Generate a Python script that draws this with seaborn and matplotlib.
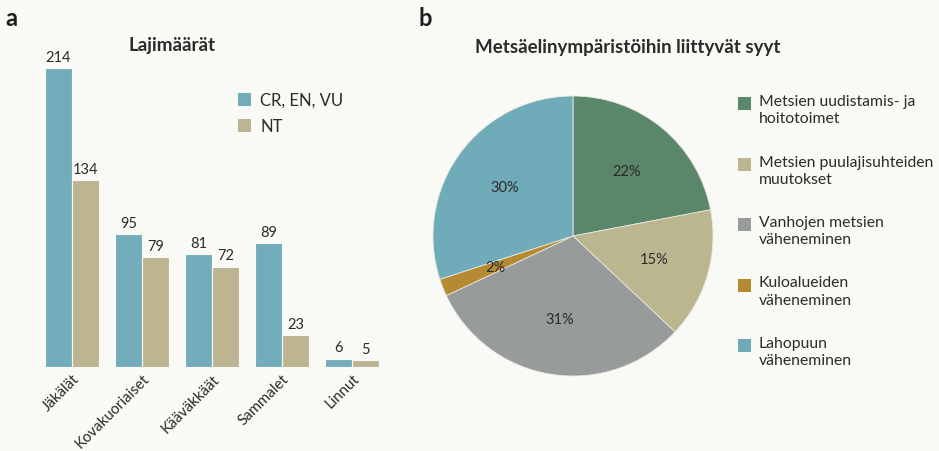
import matplotlib
matplotlib.use("Agg")
import matplotlib.pyplot as plt
from matplotlib.patches import Rectangle
import seaborn as sns
import pandas as pd

# ---- data ----
categories = ["Jäkälät", "Kovakuoriaiset", "Kääväkkäät", "Sammalet", "Linnut"]
series_names = ["CR, EN, VU", "NT"]
threatened = [214, 95, 81, 89, 6]
near_threatened = [134, 79, 72, 23, 5]

pie_labels = ["Metsien uudistamis- ja\nhoitotoimet",
              "Metsien puulajisuhteiden\nmuutokset",
              "Vanhojen metsien\nväheneminen",
              "Kuloalueiden\nväheneminen",
              "Lahopuun\nväheneminen"]
pie_values = [22, 15, 31, 2, 30]

bar_title = "Lajimäärät"
pie_title = "Metsäelinympäristöihin liittyvät syyt"

# ---- style ----
BG = "#f9f9f5"
TXT = "#2b2b2b"
bar_colors = ["#73adbb", "#bdb592"]
pie_colors = ["#5a8669", "#bcb690", "#989b9b", "#b68a33", "#70abb9"]

sns.set_theme(style="white")
plt.rcParams["font.family"] = ["Lato", "DejaVu Sans"]
plt.rcParams["text.color"] = TXT

fig = plt.figure(figsize=(9.39, 4.52), dpi=100, facecolor=BG)

# ---- bar chart ----
df = pd.DataFrame({
    "cat": categories * 2,
    "series": [series_names[0]] * len(categories) + [series_names[1]] * len(categories),
    "value": threatened + near_threatened,
})
ax = fig.add_axes([37 / 939, 84 / 452, 350 / 939, 314 / 452])
ax.set_facecolor(BG)
sns.barplot(data=df, x="cat", y="value", hue="series", palette=bar_colors,
            width=0.78, ax=ax, legend=False, edgecolor=BG, linewidth=0.8,
            saturation=1)
for cont in ax.containers:
    ax.bar_label(cont, padding=3, fontsize=10.5, color=TXT)
ax.set_xlim(-0.5, 4.5)
ax.set_ylim(0, 225)
ax.set_xlabel("")
ax.set_ylabel("")
ax.set_yticks([])
ax.tick_params(axis="x", length=0, pad=3)
for lab in ax.get_xticklabels():
    lab.set_rotation(45)
    lab.set_ha("right")
    lab.set_rotation_mode("anchor")
    lab.set_fontsize(10.8)
    lab.set_color(TXT)
for s in ax.spines.values():
    s.set_visible(False)

fig.text(172 / 939, 1 - 45 / 452, bar_title, ha="center", va="center",
         fontsize=13.5, fontweight="bold", color=TXT)

# bar legend
for i, (name, col) in enumerate(zip(series_names, bar_colors)):
    y = 94 + i * 26
    fig.add_artist(Rectangle((238 / 939, 1 - (y + 13) / 452), 13 / 939, 13 / 452,
                             transform=fig.transFigure, color=col, lw=0))
    fig.text(260 / 939, 1 - (y + 7) / 452, name, ha="left", va="center",
             fontsize=12, color=TXT)

# ---- pie chart ----
pax = fig.add_axes([433 / 939, 75 / 452, 280 / 939, 280 / 452])
pax.set_facecolor(BG)
wedges, texts, autotexts = pax.pie(
    pie_values, colors=pie_colors, startangle=90, counterclock=False,
    autopct=lambda p: f"{p:.0f}%", pctdistance=0.6, radius=1,
    wedgeprops=dict(linewidth=0.6, edgecolor="#e8e8e0"),
    textprops=dict(fontsize=10.5, color=TXT))
pax.set_xlim(-1, 1)
pax.set_ylim(-1, 1)
pax.set_aspect("equal")
pax.axis("off")

fig.text(628 / 939, 1 - 47 / 452, pie_title, ha="center", va="center",
         fontsize=13.5, fontweight="bold", color=TXT)

# pie legend
for i, (lab, col) in enumerate(zip(pie_labels, pie_colors)):
    y = 98 + i * 60.5
    fig.add_artist(Rectangle((738 / 939, 1 - (y + 13) / 452), 13 / 939, 13 / 452,
                             transform=fig.transFigure, color=col, lw=0))
    fig.text(759 / 939, 1 - (y - 3) / 452, lab, ha="left", va="top",
             fontsize=11.3, color=TXT, linespacing=1.3)

# panel letters
fig.text(5 / 939, 1 - 18 / 452, "a", ha="left", va="center", fontsize=17,
         fontweight="bold", color="#1e1e1e")
fig.text(418 / 939, 1 - 18 / 452, "b", ha="left", va="center", fontsize=17,
         fontweight="bold", color="#1e1e1e")

fig.savefig("out.png", dpi=100, facecolor=BG)
